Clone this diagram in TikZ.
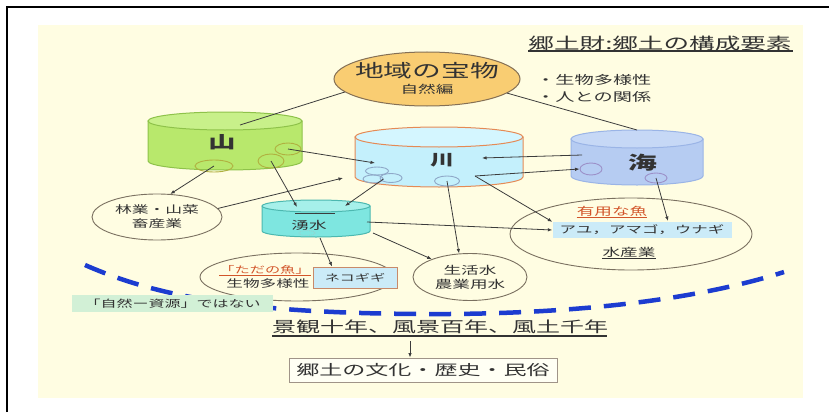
\documentclass[tikz,border=0pt]{standalone}
\usepackage{fontspec}
\usetikzlibrary{shapes.geometric,arrows.meta}
\newfontfamily\jp[FakeStretch=1.6]{Noto Sans CJK JP}
\newcommand\fsz[2]{\fontsize{#1}{#2}\selectfont}
\definecolor{bgy}{HTML}{FFFDE2}
\definecolor{txt}{HTML}{333333}
\definecolor{arr}{HTML}{3C3C3C}
\definecolor{ovl}{HTML}{7A7060}
\definecolor{trf}{HTML}{F9CD72}
\definecolor{trb}{HTML}{857055}
\definecolor{yamab}{HTML}{B8E86C}
\definecolor{yamat}{HTML}{C8F08A}
\definecolor{yamad}{HTML}{8EC24A}
\definecolor{kawab}{HTML}{C4F0FC}
\definecolor{kawat}{HTML}{D4F6FF}
\definecolor{kawad}{HTML}{E58A55}
\definecolor{umib}{HTML}{B6CCF2}
\definecolor{umit}{HTML}{C6D8F6}
\definecolor{umid}{HTML}{9AB4E6}
\definecolor{yub}{HTML}{7EE6E0}
\definecolor{yut}{HTML}{A6F0EA}
\definecolor{yud}{HTML}{4CB8B0}
\definecolor{yamae}{HTML}{B0B040}
\definecolor{kawae}{HTML}{8FA8C8}
\definecolor{umie}{HTML}{9C90C8}
\definecolor{ayuf}{HTML}{CBEBF8}
\definecolor{nekob}{HTML}{C88A6A}
\definecolor{shz}{HTML}{D2F0D6}
\definecolor{blu}{HTML}{1C3CD0}
\definecolor{bunf}{HTML}{FFFFF4}
\definecolor{bunb}{HTML}{A09488}
\definecolor{redt}{HTML}{D2552A}
\newcommand\drawcyl[8]{%
  \filldraw[fill=#6,draw=#8,line width=1pt] ({#1-#2},#3) -- ({#1-#2},#4)
    .. controls ({#1-#2},{#4+0.552*#5}) and ({#1-0.552*#2},{#4+#5}) .. (#1,{#4+#5})
    .. controls ({#1+0.552*#2},{#4+#5}) and ({#1+#2},{#4+0.552*#5}) .. ({#1+#2},#4)
    -- ({#1+#2},#3) -- cycle;
  \filldraw[fill=#7,draw=#8,line width=1pt] (#1,#3) ellipse[x radius=#2,y radius=#5];
}
\begin{document}
\begin{tikzpicture}[x=1pt,y=-1pt,
  lbl/.style={font=\jp, text=txt, inner sep=0pt},
  conn/.style={draw=arr, line width=0.8pt, -{Latex[length=4.5pt,width=3.5pt]}},
  plainln/.style={draw=arr, line width=0.8pt},
  oval/.style={ellipse, draw=ovl, line width=0.9pt, inner sep=0pt, text=txt},
  smell/.style={ellipse, line width=0.9pt, inner sep=0pt},
  ]
\useasboundingbox (0,0) rectangle (829,412);
\fill[white] (0,0) rectangle (829,412);
\fill[bgy] (38,25) rectangle (803,398);
\draw[black,line width=1.5pt] (7,412) -- (7,7) -- (829,7);

% title
\node[lbl,font=\jp\fsz{16}{18}] (title) at (660,43) {郷土財:郷土の構成要素};
\draw[txt,line width=1.2pt] (528,51) -- (793,51);

% treasure
\node[ellipse,draw=trb,fill=trf,line width=1pt,minimum width=186pt,minimum height=54pt,inner sep=0pt] (tre) at (427,79) {};
\node[lbl,font=\jp\fsz{18}{20}] (tre1) at (427,71) {地域の宝物};
\node[lbl,font=\jp\fsz{11}{12}] (tre2) at (427,89) {自然編};
\node[lbl,anchor=west,font=\jp\fsz{12}{14}] (bul1) at (536,80) {・生物多様性};
\node[lbl,anchor=west,font=\jp\fsz{12}{14}] (bul2) at (536,97) {・人との関係};

% cylinders
\drawcyl{225}{77}{121}{161}{9}{yamab}{yamat}{yamad}
\drawcyl{439}{84}{137}{177}{10}{kawab}{kawat}{kawad}
\drawcyl{637}{66}{139}{176}{9}{umib}{umit}{umid}
\drawcyl{316}{54}{206}{231}{6}{yub}{yut}{yud}
\draw[arr,line width=0.8pt] (295,213) -- (335,213);

\node[lbl,font=\jp\bfseries\fsz{17}{17}] (yama) at (222,142) {山};
\node[lbl,font=\jp\bfseries\fsz{15}{15}] (kawa) at (442,160) {川};
\node[lbl,font=\jp\bfseries\fsz{18}{18}] (umi) at (643,163) {海};
\node[lbl,font=\jp\fsz{11}{11}] (yusui) at (309,225) {湧水};

% small ellipses
\node[smell,draw=yamae,minimum width=38pt,minimum height=12pt] (ymA) at (214,166) {};
\node[smell,draw=yamae,minimum width=26pt,minimum height=14pt] (ymB) at (271,161) {};
\node[smell,draw=yamae,minimum width=26pt,minimum height=12pt] (ymC) at (288,149) {};
\node[smell,draw=kawae,minimum width=23pt,minimum height=8pt] (kwA) at (377,171) {};
\node[smell,draw=kawae,minimum width=20pt,minimum height=8pt] (kwB) at (373,179) {};
\node[smell,draw=kawae,minimum width=22pt,minimum height=9pt] (kwC) at (391,178) {};
\node[smell,draw=kawae,minimum width=25pt,minimum height=10pt] (kwD) at (447,181) {};
\node[smell,draw=umie,minimum width=22pt,minimum height=12pt] (umA) at (591,169) {};
\node[smell,draw=umie,minimum width=22pt,minimum height=10pt] (umB) at (656,178) {};
\node[smell,draw=yud!60,densely dotted,minimum width=16pt,minimum height=5pt] (yuA) at (307,233) {};

% ovals
\node[oval,minimum width=130pt,minimum height=46pt,align=center,font=\jp\fsz{10.5}{14}] (rin) at (157,217) {林業・山菜\\畜産業};
\node[oval,minimum width=114pt,minimum height=47pt,align=center,font=\jp\fsz{11}{14}] (sei) at (470,277) {生活水\\農業用水};
\node[oval,minimum width=242pt,minimum height=72pt] (yuyo) at (631,234) {};
\node[oval,minimum width=194pt,minimum height=48pt] (tada) at (297,277) {};

\node[fill=ayuf,minimum width=179pt,minimum height=16pt,inner sep=0pt,font=\jp\fsz{10.3}{11},text=txt] (ayu) at (642,230) {アユ，アマゴ，ウナギ};
\node[lbl,text=redt,font=\jp\fsz{11}{12}] (yuyo1) at (612,211) {有用な魚};
\draw[redt,line width=0.8pt] ([yshift=-1pt]yuyo1.south west) -- ([yshift=-1pt]yuyo1.south east);
\node[lbl,font=\jp\fsz{11}{12}] (suisan) at (629,252) {水産業};
\draw[txt,line width=0.8pt] ([yshift=-1pt]suisan.south west) -- ([yshift=-1pt]suisan.south east);

\node[lbl,text=redt,font=\jp\fsz{9.5}{10}] (tada1) at (265,270) {「ただの魚」};
\draw[redt,line width=0.8pt] ([yshift=-1pt]tada1.south west) -- ([yshift=-1pt]tada1.south east);
\node[lbl,font=\jp\fsz{10.4}{11}] (tada2) at (268,284) {生物多様性};
\node[fill=ayuf,draw=nekob,line width=0.9pt,minimum width=84pt,minimum height=21pt,inner sep=0pt,font=\jp\fsz{9.5}{10},text=txt] (neko) at (355,277.5) {ネコギギ};

% blue dashed curve
\draw[blu,line width=4.5pt,dash pattern=on 22pt off 13pt] (85,265) .. controls (160,298) and (250,313) .. (420,314) .. controls (560,315) and (690,302) .. (784,272);

\node[fill=shz,minimum width=201pt,minimum height=17pt,inner sep=0pt,font=\jp\fsz{10}{10},text=txt] (shizen) at (172.5,303.5) {「自然ー資源」ではない};

% bottom
\node[lbl,font=\jp\fsz{15}{16}] (keikan) at (440,327) {景観十年、風景百年、風土千年};
\draw[txt,line width=1.2pt] (272,336) -- (607,336);
\node[draw=bunb,fill=bunf,line width=0.9pt,minimum width=268pt,minimum height=24pt,inner sep=0pt,font=\jp\fsz{14.4}{15},text=txt] (bunka) at (423,370) {郷土の文化・歴史・民俗};
\coordinate (ka) at (410,341);
\draw[conn] (ka) -- (ka |- bunka.north);

% connectors
\coordinate (yamaTop) at (240,125);
\coordinate (umiTop) at (637,130);
\draw[plainln] (tre.189) -- (yamaTop);
\draw[plainln] (tre.350) -- (umiTop);
\coordinate (kwIn1) at (375,163);
\draw[conn] (ymC.center) -- (kwIn1);
\coordinate (yuIn1) at (297,207);
\draw[conn] (ymB.center) -- (yuIn1);
\coordinate (yuIn2) at (345,206);
\draw[conn] (kwB.east) -- (yuIn2);
\draw[conn] (ymA.center) -- (rin.60);
\coordinate (kwIn2) at (343,178);
\draw[conn] (rin.8) -- (kwIn2);
\coordinate (umOut) at (582,155);
\coordinate (kwIn3) at (482,158);
\draw[conn] (umOut) -- (kwIn3);
\coordinate (kwOut) at (475,176);
\draw[conn] (kwOut) -- (umA.west);
\draw[conn] (kwOut) -- (ayu.north west);
\coordinate (ayuTop) at (668,221);
\draw[conn] (umB.center) -- (ayuTop);
\coordinate (yuOut1) at (367,222);
\draw[conn] (yuOut1) -- (ayu.west);
\draw[conn] (kwD.center) -- (sei.115);
\coordinate (yuOut2) at (373,233);
\draw[conn] (yuOut2) -- (sei.155);
\coordinate (yuOut3) at (320,238);
\draw[conn] (yuOut3) -- ([xshift=-23pt]neko.north);
\end{tikzpicture}
\end{document}
